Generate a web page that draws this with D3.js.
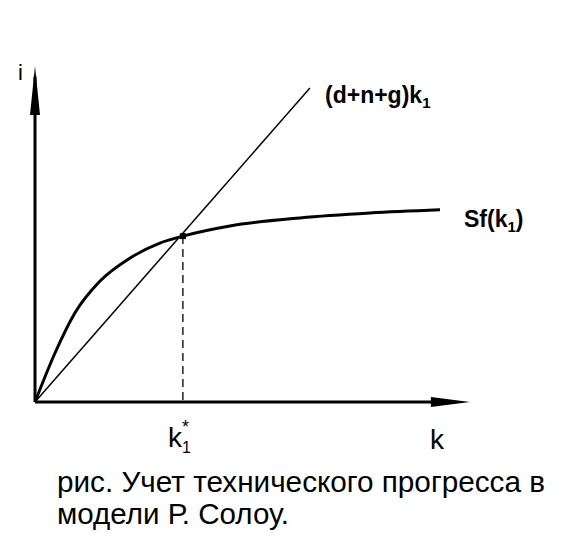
<!DOCTYPE html>
<html><head><meta charset="utf-8">
<script src="https://cdn.jsdelivr.net/npm/d3@7"></script>
<style>body{margin:0;background:#fff}</style></head>
<body><svg id="c" width="576" height="540"></svg>
<script>
// data (model units)
const curveX = [0, 0.46, 0.92, 1.49, 2.18, 2.87, 3.40, 4.48, 6.09, 7.70, 9.31];
const curveY = [0, 1.40, 2.55, 3.45, 4.11, 4.54, 4.74, 5.03, 5.26, 5.40, 5.49];
const lineX = [0, 6.32];
const lineY = [0, 8.97];
const kStar = 3.40, kStarY = 4.74;
const labels = {i:"i", line:"(d+n+g)k", sf:"Sf(k", k:"k"};
const caption = ["рис. Учет технического прогресса в", "модели Р. Солоу."];

const svg = d3.select("#c");
const x = d3.scaleLinear().domain([0,10]).range([35,470]);
const y = d3.scaleLinear().domain([0,10]).range([402,52]);
const g = svg.append("g");
g.append("line").attr("x1",x(0)).attr("y1",y(0)).attr("x2",x(0)).attr("y2",y(9.3)).attr("stroke","#000").attr("stroke-width",3);
g.append("line").attr("x1",x(0)).attr("y1",y(0)).attr("x2",x(9.5)).attr("y2",y(0)).attr("stroke","#000").attr("stroke-width",3);
g.append("path").attr("d",`M${x(0)-5},${y(8.2)} L${x(0)},${y(9.6)} L${x(0)+5},${y(8.2)} Z`).attr("fill","#000");
g.append("path").attr("d",`M${x(9.1)},${y(0)-5} L${x(10)},${y(0)} L${x(9.1)},${y(0)+5} Z`).attr("fill","#000");
g.append("line").attr("x1",x(lineX[0])).attr("y1",y(lineY[0])).attr("x2",x(lineX[1])).attr("y2",y(lineY[1])).attr("stroke","#000").attr("stroke-width",1.5);
g.append("path").datum(curveX.map((v,i)=>[v,curveY[i]]))
 .attr("d",d3.line().x(d=>x(d[0])).y(d=>y(d[1])).curve(d3.curveMonotoneX))
 .attr("fill","none").attr("stroke","#000").attr("stroke-width",3);
g.append("line").attr("x1",x(kStar)).attr("y1",y(kStarY)).attr("x2",x(kStar)).attr("y2",y(0)).attr("stroke","#000").attr("stroke-width",1.3).attr("stroke-dasharray","8,5");
g.append("rect").attr("x",x(kStar)-3).attr("y",y(kStarY)-3).attr("width",6).attr("height",6).attr("fill","#000");
const F = "Liberation Sans, Arial, sans-serif";
function t(xp,yp,s,size,w){return svg.append("text").attr("x",xp).attr("y",yp).attr("font-family",F).attr("font-size",size).attr("font-weight",w||"normal").text(s);}
t(18,80,labels.i,22);
const a=t(325,103,labels.line,23,"bold"); a.append("tspan").attr("font-size",15).attr("dy",5).text("1");
const b=t(464,227,labels.sf,23,"bold"); b.append("tspan").attr("font-size",15).attr("dy",5).text("1"); b.append("tspan").attr("dy",-5).text(")");
const c=t(168,447,labels.k,28); c.append("tspan").attr("font-size",16).attr("dy",6).text("1"); c.append("tspan").attr("font-size",18).attr("dx",-9).attr("dy",-20).text("*");
t(430,449,labels.k,28);
t(57,492,caption[0],29).attr("textLength",488).attr("lengthAdjust","spacingAndGlyphs");
t(57,524,caption[1],29).attr("textLength",232).attr("lengthAdjust","spacingAndGlyphs");
</script></body></html>
